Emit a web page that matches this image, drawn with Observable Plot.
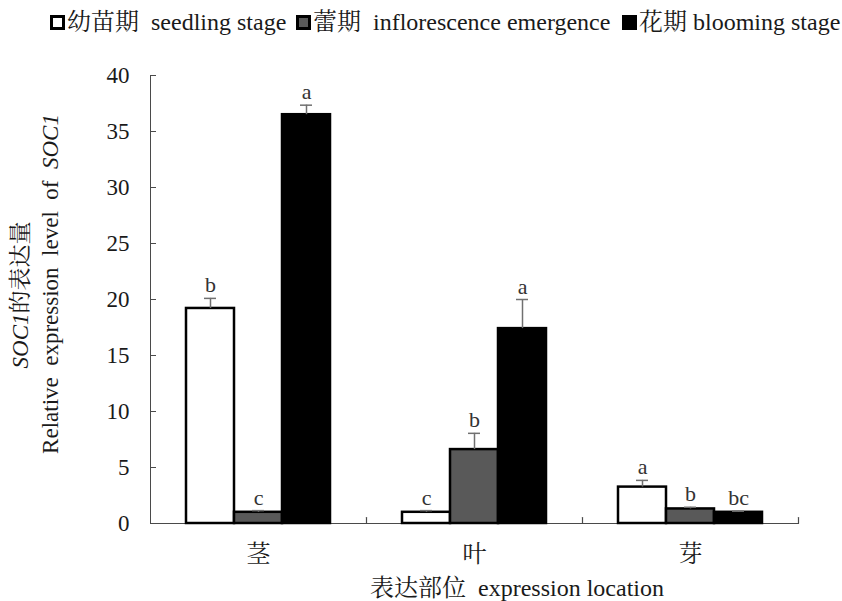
<!DOCTYPE html>
<html><head><meta charset="utf-8">
<script src="https://cdn.jsdelivr.net/npm/d3@7"></script>
<script src="https://cdn.jsdelivr.net/npm/@observablehq/plot@0.6"></script>
<style>
body{margin:0;background:#fff;width:842px;height:601px;overflow:hidden;font-family:"Liberation Serif","Noto Serif CJK SC","Noto Sans CJK SC",serif;color:#1a1a1a;}
#legend{position:relative;height:45px;width:842px;font-size:24px;}
.item{position:absolute;top:7px;white-space:pre;display:flex;align-items:center;line-height:30px;}
.sw{width:9px;height:9px;border:3px solid #000;margin-right:2px;}
</style></head><body>
<div id="legend"></div><div id="chart"></div>
<script>
const locations = ["茎", "叶", "芽"];
const stageKeys = ["seedling", "inflorescence", "blooming"];
const stageLabels = ["幼苗期  seedling stage", "蕾期  inflorescence emergence", "花期 blooming stage"];
const stageFills = ["#ffffff", "#595959", "#000000"];
// values per location (茎, 叶, 芽)
const seedling = [19.2, 1.0, 3.25];
const inflorescence = [1.0, 6.6, 1.3];
const blooming = [36.5, 17.4, 1.0];
const seedlingErr = [0.9, 0.15, 0.6];
const inflorescenceErr = [0.15, 1.45, 0.15];
const bloomingErr = [0.85, 2.6, 0.1];
const seedlingLetters = ["b", "c", "a"];
const inflorescenceLetters = ["c", "b", "b"];
const bloomingLetters = ["a", "a", "bc"];
const yTicks = [0, 5, 10, 15, 20, 25, 30, 35, 40];
const xTitle = "表达部位  expression location";

const series = {
  seedling: [seedling, seedlingErr, seedlingLetters],
  inflorescence: [inflorescence, inflorescenceErr, inflorescenceLetters],
  blooming: [blooming, bloomingErr, bloomingLetters]
};
const data = [];
locations.forEach((loc, i) => stageKeys.forEach(s => {
  const [v, e, l] = series[s];
  data.push({location: loc, stage: s, value: v[i], err: e[i], letter: l[i]});
}));

// legend
const legend = document.getElementById("legend");
const legendLeft = [50, 296, 622];
stageKeys.forEach((s, i) => {
  const it = document.createElement("div");
  it.className = "item";
  it.style.left = legendLeft[i] + "px";
  const sw = document.createElement("span");
  sw.className = "sw";
  sw.style.background = stageFills[i];
  it.appendChild(sw);
  const t = document.createElement("span");
  t.textContent = stageLabels[i];
  it.appendChild(t);
  legend.appendChild(it);
});

const tickUp = {draw(context, l) { context.moveTo(0, 0); context.lineTo(0, -l); }};
const axisColor = "#4a4a4a";
const errColor = "#707070";
const font = '"Liberation Serif","Noto Serif CJK SC","Noto Sans CJK SC",serif';

const plot = Plot.plot({
  width: 842, height: 556,
  marginTop: 30, marginBottom: 78, marginLeft: 150, marginRight: 44,
  style: {fontFamily: font, fontSize: "23px", color: "#1a1a1a", background: "#fff"},
  fx: {domain: locations, padding: 0, label: null},
  x: {domain: stageKeys, paddingInner: 0, paddingOuter: 0.725, axis: null},
  y: {domain: [0, 40]},
  color: {domain: stageKeys, range: stageFills},
  marks: [
    Plot.axisY({ticks: yTicks, tickSize: -6, tickPadding: 27, stroke: axisColor, label: null, tickFormat: d => d, fontSize: 23}),
    Plot.axisFx({anchor: "bottom", tickSize: 0, tickPadding: 21, label: null, fontSize: 24}),
    Plot.frame({anchor: "left", facetAnchor: "left", stroke: axisColor}),
    Plot.ruleY([0], {stroke: axisColor, strokeWidth: 1.2}),
    Plot.vector({length: 1}, {frameAnchor: "bottom-right", length: 6, rotate: 0, anchor: "start", shape: tickUp, stroke: axisColor, strokeWidth: 1.2}),
    Plot.barY(data, {fx: "location", x: "stage", y: "value", fill: "stage", stroke: "#000", strokeWidth: 2.5}),
    Plot.ruleX(data, {fx: "location", x: "stage", y1: "value", y2: d => d.value + d.err, stroke: errColor, strokeWidth: 1.5}),
    Plot.tickY(data, {fx: "location", x: "stage", y: d => d.value + d.err, stroke: errColor, strokeWidth: 1.5, inset: 18}),
    Plot.text(data, {fx: "location", x: "stage", y: d => d.value + d.err, text: "letter", dy: -6, lineAnchor: "bottom", fill: "#333", fontSize: 22})
  ]
});
document.getElementById("chart").appendChild(plot);

const svg = d3.select(plot);
// x-axis title
svg.append("text")
  .attr("x", 517).attr("y", 551)
  .attr("text-anchor", "middle").attr("font-size", 24).attr("fill", "#1a1a1a")
  .text(xTitle);
// y-axis title with italic gene name
const t1 = svg.append("text")
  .attr("transform", "translate(28,250) rotate(-90)")
  .attr("text-anchor", "middle").attr("font-size", 23).attr("fill", "#1a1a1a");
t1.append("tspan").attr("font-style", "italic").text("SOC1");
t1.append("tspan").text("的表达量");
const t2 = svg.append("text")
  .attr("transform", "translate(58,239) rotate(-90)")
  .attr("text-anchor", "middle").attr("font-size", 23).attr("fill", "#1a1a1a");
t2.append("tspan").text("Relative  expression  level  of  ");
t2.append("tspan").attr("font-style", "italic").text("SOC1");
</script>
</body></html>
